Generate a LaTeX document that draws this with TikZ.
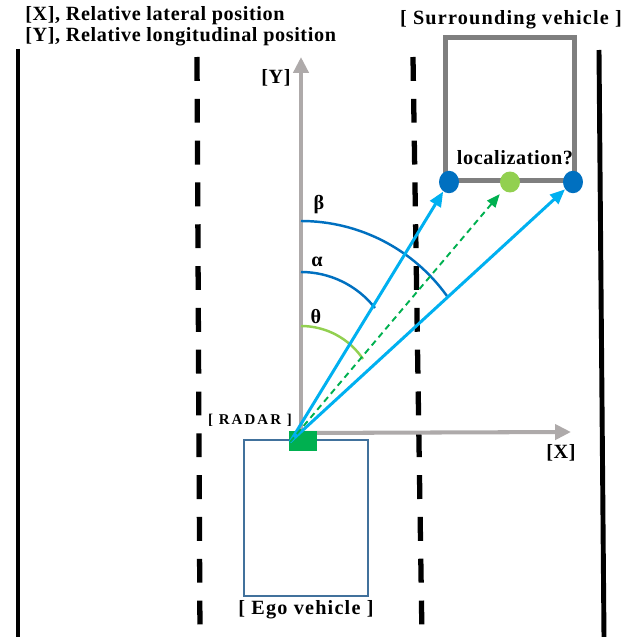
\documentclass[tikz,border=0pt]{standalone}
\usepackage{fontspec}
\setmainfont{Liberation Serif}
\usepackage{tikz}
\usetikzlibrary{arrows.meta,shapes.geometric}
\definecolor{AxisGray}{HTML}{AEAAAA}
\definecolor{CarGray}{HTML}{7F7F7F}
\definecolor{EgoBlue}{HTML}{41719C}
\definecolor{DeepBlue}{HTML}{0070C0}
\definecolor{Sky}{HTML}{00B0F0}
\definecolor{Radar}{HTML}{00B050}
\definecolor{Lime}{HTML}{92D050}

\begin{document}
\begin{tikzpicture}[x=0.02cm,y=0.02cm,
    lane/.style={line width=2.8pt},
    dashlane/.style={line width=3pt,dash pattern=on 13.6pt off 10.2pt},
    axis/.style={AxisGray,line width=2.3pt,-{Triangle[length=9pt,width=8.5pt]}},
    ray/.style={Sky,line width=1.7pt,-{Triangle[length=8.5pt,width=7pt]}},
    guess/.style={Radar,line width=1.1pt,dash pattern=on 3.5pt off 2.5pt,-{Triangle[length=7.5pt,width=6pt]}},
    sweep/.style={line width=1.4pt},
    lab/.style={font=\bfseries\fontsize{11.5}{13}\selectfont\addfontfeature{LetterSpace=3},inner sep=0pt},
    wide/.style={font=\bfseries\fontsize{11.5}{13}\selectfont\addfontfeature{LetterSpace=6},inner sep=0pt},
    marker/.style={ellipse,minimum width=0.4cm,minimum height=0.45cm,inner sep=0pt}
  ]
    \useasboundingbox (0,0) rectangle (630,637);

    % road
    \draw[lane] (18,588) -- (18,0);
    \draw[lane] (599,587) -- (604,0);
    \draw[dashlane] (197,580) -- (200,0);
    \draw[dashlane] (413,580) -- (422,0);

    % vehicles
    \node[draw=EgoBlue,line width=0.9pt,minimum width=2.48cm,minimum height=3.12cm] (ego) at (306,119) {};
    \node[draw=CarGray,line width=2.8pt,minimum width=2.58cm,minimum height=2.86cm] (surround) at (510,528) {};

    % sensor frame
    \coordinate (O) at (301,204);
    \coordinate (Ytip) at (301,580);
    \coordinate (Xtip) at (571,205);
    \draw[axis] (O) -- (Ytip);
    \draw[axis] (O) -- (Xtip);
    \node[fill=Radar,minimum width=0.56cm,minimum height=0.42cm,inner sep=0pt] (radar) at (303,196) {};
    \coordinate (S) at (290,195);

    % detection points
    \node[marker,fill=DeepBlue] (dotL) at (449,455) {};
    \node[marker,fill=Lime,minimum height=0.42cm] (dotM) at (510,455) {};
    \node[marker,fill=DeepBlue] (dotR) at (573,455) {};

    % angles
    \draw[sweep,DeepBlue] (301,416) arc[start angle=90,end angle=35.6,radius=3.592cm];
    \draw[sweep,DeepBlue] (301,365) arc[start angle=90,end angle=38.1,radius=1.88cm];
    \draw[sweep,Lime] (301,311) arc[start angle=90,end angle=33.9,radius=1.494cm];

    \draw[ray] (S) -- (dotL);
    \draw[ray] (S) -- (dotR);
    \draw[guess,shorten >=3pt] (S) -- (dotM);

    % labels
    \node[lab,anchor=base west] (titleX) at (25,617) {[X], Relative lateral position};
    \node[lab,anchor=base west] (titleY) at (25,595) {[Y], Relative longitudinal position};
    \node[lab] (ylab) at (276,559) {[Y]};
    \node[lab] (xlab) at (561,184) {[X]};
    \node[lab] (beta) at (319,432) {β};
    \node[lab] (alpha) at (317,375) {α};
    \node[lab] (theta) at (316,320) {θ};
    \node[wide,anchor=base] (surlab) at (511,612) {[ Surrounding vehicle ]};
    \node[lab,anchor=base] (loclab) at (515,472) {localization?};
    \node[lab,font=\bfseries\fontsize{8.5}{10}\selectfont\addfontfeature{LetterSpace=14}] (radlab) at (250,217) {[ RADAR ]};
    \node[wide] (egolab) at (306,27) {[ Ego vehicle ]};
  \end{tikzpicture}
\end{document}
